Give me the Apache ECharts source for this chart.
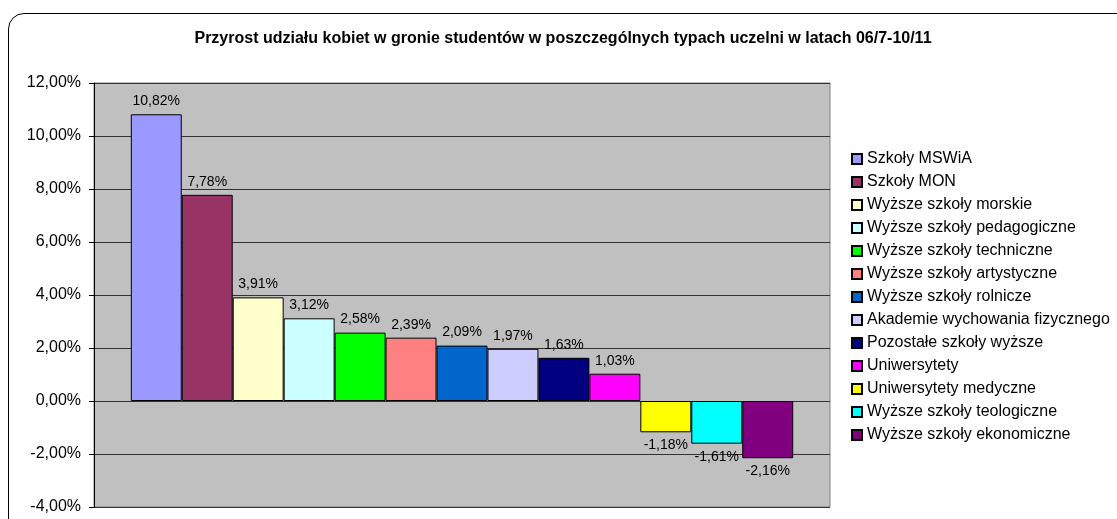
<!DOCTYPE html>
<html>
<head>
<meta charset="utf-8">
<script src="https://cdn.jsdelivr.net/npm/echarts@6/dist/echarts.min.js"></script>
<style>
  html, body { margin: 0; padding: 0; background: #fff; overflow: hidden; }
  #frame {
    position: absolute; left: 8px; top: 13px; width: 1200px; height: 600px;
    border: 1.5px solid #000; border-radius: 16px; box-sizing: border-box;
  }
  #chart { position: absolute; left: 0; top: 0; width: 1117px; height: 519px; }
</style>
</head>
<body>
<div id="frame"></div>
<div id="chart"></div>
<script>
// typy uczelni i przyrost udziału kobiet (w %)
const schoolTypes = [
  'Szkoły MSWiA',
  'Szkoły MON',
  'Wyższe szkoły morskie',
  'Wyższe szkoły pedagogiczne',
  'Wyższe szkoły techniczne',
  'Wyższe szkoły artystyczne',
  'Wyższe szkoły rolnicze',
  'Akademie wychowania fizycznego',
  'Pozostałe szkoły wyższe',
  'Uniwersytety',
  'Uniwersytety medyczne',
  'Wyższe szkoły teologiczne',
  'Wyższe szkoły ekonomiczne'
];
const growthValues = [10.82, 7.78, 3.91, 3.12, 2.58, 2.39, 2.09, 1.97, 1.63, 1.03, -1.18, -1.61, -2.16];
const yTicks = [-4, -2, 0, 2, 4, 6, 8, 10, 12];

const palette = ['#9999FF', '#993366', '#FFFFCC', '#CCFFFF', '#00FF00', '#FF8080', '#0066CC',
                 '#CCCCFF', '#000080', '#FF00FF', '#FFFF00', '#00FFFF', '#800080'];

const font = 'Arial, "Liberation Sans", sans-serif';

function fmt(v) {
  return v.toFixed(2).replace('.', ',') + '%';
}

let chart = echarts.init(document.getElementById('chart'));

let series = schoolTypes.map((name, i) => ({
  name: name,
  type: 'bar',
  barGap: 0,
  barCategoryGap: '10%',
  data: [{
    value: growthValues[i],
    label: { position: growthValues[i] < 0 ? 'bottom' : 'top' }
  }],
  itemStyle: { color: palette[i], borderColor: '#000', borderWidth: 1 },
  label: {
    show: true,
    distance: 6,
    color: '#000',
    fontFamily: font,
    fontSize: 14,
    formatter: p => fmt(p.value)
  },
  emphasis: { disabled: true }
}));

let option = {
  animation: false,
  color: palette,
  title: {
    text: 'Przyrost udziału kobiet w gronie studentów w poszczególnych typach uczelni w latach 06/7-10/11',
    left: 558,
    textAlign: 'center',
    top: 26,
    textStyle: {
      fontFamily: font,
      fontSize: 16,
      fontWeight: 'bold',
      color: '#000'
    }
  },
  legend: {
    orient: 'vertical',
    left: 851,
    top: 151,
    padding: 0,
    itemWidth: 10,
    itemHeight: 10,
    itemGap: 7,
    icon: 'rect',
    textStyle: {
      fontFamily: font,
      fontSize: 16,
      lineHeight: 16,
      color: '#000'
    },
    data: schoolTypes
  },
  grid: {
    show: true,
    left: 94,
    top: 83,
    right: 287,
    bottom: 12,
    backgroundColor: '#C0C0C0',
    borderColor: '#808080',
    borderWidth: 1
  },
  xAxis: {
    type: 'category',
    data: [''],
    axisLine: { show: false },
    axisTick: { show: false },
    axisLabel: { show: false }
  },
  yAxis: {
    type: 'value',
    min: yTicks[0],
    max: yTicks[yTicks.length - 1],
    interval: 2,
    axisLine: { show: true, lineStyle: { color: '#000', width: 1 } },
    axisTick: { show: true, length: 5, lineStyle: { color: '#000' } },
    splitLine: { show: true, lineStyle: { color: '#333', width: 1 } },
    axisLabel: {
      margin: 13,
      color: '#000',
      fontFamily: font,
      fontSize: 16,
      formatter: v => fmt(v)
    }
  },
  series: series
};
chart.setOption(option);
</script>
</body>
</html>
